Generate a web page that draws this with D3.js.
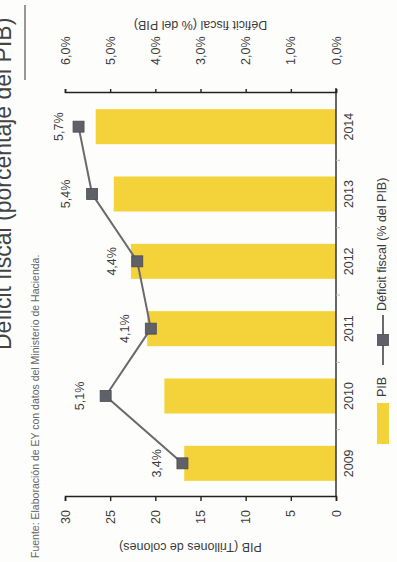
<!DOCTYPE html>
<html>
<head>
<meta charset="utf-8">
<script src="https://cdn.jsdelivr.net/npm/d3@7"></script>
<style>
  html, body { margin: 0; padding: 0; background: #fff; }
  svg { display: block; font-family: "Liberation Sans", Arial, sans-serif; }
</style>
</head>
<body>
<svg id="chart" width="397" height="562"></svg>
<script>
// Costa Rica: PIB (billones de colones) y déficit fiscal (% del PIB)
const years = ["2009", "2010", "2011", "2012", "2013", "2014"];
const pib = [16.8, 19.0, 20.9, 22.7, 24.6, 26.6];
const deficit = [3.4, 5.1, 4.1, 4.4, 5.4, 5.7];
const pibTicks = [0, 5, 10, 15, 20, 25, 30];
const pctTicks = [0, 1, 2, 3, 4, 5, 6];

const titleText = "Déficit fiscal (porcentaje del PIB)";
const sourceText = "Fuente: Elaboración de EY con datos del Ministerio de Hacienda.";
const leftTitle = "PIB (Trillones de colones)";
const rightTitle = "Déficit fiscal (% del PIB)";
const legendBar = "PIB";
const legendLine = "Déficit fiscal (% del PIB)";

const PAGE_W = 397, PAGE_H = 562;
const W = PAGE_H; // the chart is laid out landscape and turned a quarter turn

const svg = d3.select("#chart");
svg.append("rect").attr("width", PAGE_W).attr("height", PAGE_H).attr("fill", "#fdfdfb");

const g = svg.append("g").attr("transform", `translate(0,${W}) rotate(-90)`);

const TEXT = "#3b3b3b";
const plot = { left: 65, right: 469, top: 65, bottom: 336 };

const x = d3.scaleBand().domain(years)
  .range([plot.left, plot.right])
  .paddingInner(0.48).paddingOuter(0.24);
const yL = d3.scaleLinear().domain([0, 30]).range([plot.bottom, plot.top]);
const yR = d3.scaleLinear().domain([0, 6]).range([plot.bottom, plot.top]);
const pct = d => d.toFixed(1).replace(".", ",") + "%";

// header
g.append("text").attr("x", 212).attr("y", 11)
  .attr("font-size", 23).attr("fill", "#444").text(titleText);
g.append("line").attr("x1", 482).attr("x2", 557).attr("y1", 25).attr("y2", 25)
  .attr("stroke", "#555").attr("stroke-width", 1.2);
g.append("text").attr("x", 4).attr("y", 39)
  .attr("font-size", 10.5).attr("fill", "#666").text(sourceText);

// bars
g.selectAll("rect.bar").data(years).join("rect").attr("class", "bar")
  .attr("x", d => x(d)).attr("width", x.bandwidth())
  .attr("y", (d, i) => yL(pib[i])).attr("height", (d, i) => yL(0) - yL(pib[i]))
  .attr("fill", "#f4d33a");

// category axis
const xAxis = g.append("g").attr("transform", `translate(0,${plot.bottom})`)
  .call(d3.axisBottom(x).tickSize(0).tickPadding(8));
xAxis.select(".domain").attr("stroke", "#333").attr("stroke-width", 1.5)
  .attr("d", `M${plot.left},0H${plot.right + 5}`);
xAxis.selectAll("text").attr("font-size", 12.5).attr("fill", TEXT).attr("font-family", null);
// small separators between categories
g.selectAll("line.sep").data(years.slice(1)).join("line").attr("class", "sep")
  .attr("x1", d => x(d) - x.step() * x.paddingInner() / 2)
  .attr("x2", d => x(d) - x.step() * x.paddingInner() / 2)
  .attr("y1", plot.bottom).attr("y2", plot.bottom + 4)
  .attr("stroke", "#bbb").attr("stroke-width", 1);

// left axis (PIB)
const left = g.append("g").attr("transform", `translate(${plot.left},0)`)
  .call(d3.axisLeft(yL).tickValues(pibTicks).tickSize(4).tickPadding(9));
left.select(".domain").attr("stroke", "#222").attr("stroke-width", 1.6);
left.selectAll(".tick line").attr("stroke", "#222").attr("stroke-width", 1.4);
left.selectAll("text").attr("font-size", 12.5).attr("fill", TEXT).attr("font-family", null);
g.append("text")
  .attr("transform", `translate(19,${(plot.top + plot.bottom) / 2 - 10}) rotate(-90)`)
  .attr("text-anchor", "middle").attr("font-size", 12.5).attr("fill", TEXT)
  .text(leftTitle);

// right axis (% del PIB)
const right = g.append("g").attr("transform", `translate(${plot.right},0)`)
  .call(d3.axisRight(yR).tickValues(pctTicks).tickSize(4).tickPadding(24).tickFormat(pct));
right.select(".domain").attr("stroke", "#222").attr("stroke-width", 1.6);
right.selectAll(".tick line").attr("stroke", "#222").attr("stroke-width", 1.4);
right.selectAll("text").attr("font-size", 12.5).attr("fill", TEXT).attr("font-family", null);
g.append("text")
  .attr("transform", `translate(538,${(plot.top + plot.bottom) / 2}) rotate(-90)`)
  .attr("text-anchor", "middle").attr("dominant-baseline", "middle")
  .attr("font-size", 12.5).attr("fill", TEXT)
  .text(rightTitle);

// deficit line
const cx = i => x(years[i]) + x.bandwidth() / 2;
const line = d3.line().x((d, i) => cx(i)).y(d => yR(d));
g.append("path").datum(deficit).attr("d", line)
  .attr("fill", "none").attr("stroke", "#6a6a6c").attr("stroke-width", 2);
const MK = 11;
g.selectAll("rect.mk").data(deficit).join("rect").attr("class", "mk")
  .attr("x", (d, i) => cx(i) - MK / 2).attr("y", d => yR(d) - MK / 2)
  .attr("width", MK).attr("height", MK)
  .attr("fill", "#5f6068").attr("stroke", "#4c4c52").attr("stroke-width", 0.8);
g.selectAll("text.val").data(deficit).join("text").attr("class", "val")
  .attr("x", (d, i) => cx(i))
  .attr("y", d => Math.max(yR(d) - 25, 60))
  .attr("text-anchor", "middle").attr("dominant-baseline", "middle")
  .attr("font-size", 12.5).attr("fill", TEXT)
  .text(pct);

// legend
const ly = 383;
g.append("rect").attr("x", 118).attr("y", ly - 6).attr("width", 41).attr("height", 12)
  .attr("fill", "#f4d33a");
g.append("text").attr("x", 165).attr("y", ly).attr("dominant-baseline", "middle")
  .attr("font-size", 12.5).attr("fill", TEXT).text(legendBar);
g.append("line").attr("x1", 197).attr("x2", 247).attr("y1", ly).attr("y2", ly)
  .attr("stroke", "#6a6a6c").attr("stroke-width", 2);
g.append("rect").attr("x", 222 - MK / 2).attr("y", ly - MK / 2).attr("width", MK).attr("height", MK)
  .attr("fill", "#5f6068").attr("stroke", "#4c4c52").attr("stroke-width", 0.8);
g.append("text").attr("x", 251).attr("y", ly).attr("dominant-baseline", "middle")
  .attr("font-size", 12.5).attr("fill", TEXT).text(legendLine);
</script>
</body>
</html>
